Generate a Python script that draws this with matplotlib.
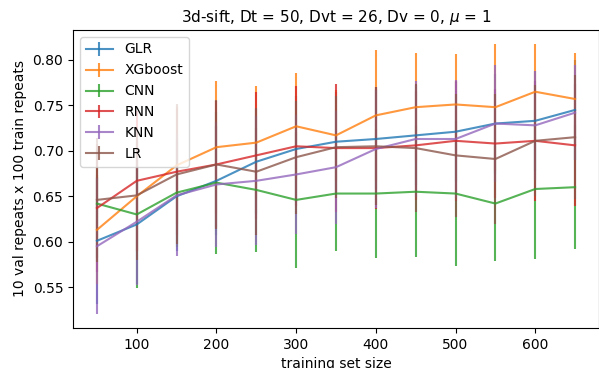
import numpy as np
import matplotlib
matplotlib.use("Agg")
import matplotlib.pyplot as plt

# training set sizes
sizes = [50, 100, 150, 200, 250, 300, 350, 400, 450, 500, 550, 600, 650]

# mean scores per model
glr = [0.601, 0.619, 0.650, 0.667, 0.688, 0.702, 0.710, 0.713, 0.717, 0.721, 0.730, 0.733, 0.745]
xgb = [0.613, 0.650, 0.684, 0.704, 0.709, 0.727, 0.717, 0.739, 0.748, 0.751, 0.748, 0.765, 0.757]
cnn = [0.642, 0.630, 0.654, 0.665, 0.657, 0.646, 0.653, 0.653, 0.655, 0.653, 0.642, 0.658, 0.660]
rnn = [0.637, 0.667, 0.677, 0.685, 0.695, 0.705, 0.703, 0.703, 0.706, 0.711, 0.708, 0.711, 0.706]
knn = [0.595, 0.622, 0.651, 0.663, 0.667, 0.674, 0.682, 0.702, 0.713, 0.713, 0.730, 0.728, 0.742]
lr = [0.646, 0.651, 0.674, 0.685, 0.677, 0.693, 0.704, 0.705, 0.703, 0.695, 0.691, 0.711, 0.715]

# standard deviations (error bars)
glr_err = [0.070, 0.065, 0.060, 0.060, 0.058, 0.058, 0.055, 0.055, 0.055, 0.055, 0.055, 0.055, 0.055]
xgb_err = [0.060, 0.060, 0.065, 0.073, 0.062, 0.059, 0.050, 0.072, 0.060, 0.056, 0.070, 0.052, 0.051]
cnn_err = [0.060, 0.081, 0.060, 0.078, 0.068, 0.075, 0.063, 0.071, 0.072, 0.080, 0.063, 0.077, 0.068]
rnn_err = [0.070, 0.077, 0.070, 0.070, 0.070, 0.066, 0.070, 0.067, 0.060, 0.066, 0.060, 0.066, 0.067]
knn_err = [0.075, 0.070, 0.067, 0.069, 0.071, 0.065, 0.062, 0.065, 0.064, 0.065, 0.064, 0.060, 0.052]
lr_err = [0.068, 0.071, 0.077, 0.071, 0.070, 0.062, 0.056, 0.065, 0.070, 0.068, 0.071, 0.061, 0.068]

names = ['GLR', 'XGboost', 'CNN', 'RNN', 'KNN', 'LR']
means = [glr, xgb, cnn, rnn, knn, lr]
errs = [glr_err, xgb_err, cnn_err, rnn_err, knn_err, lr_err]

fig = plt.figure(figsize=(5.99, 3.68), dpi=100)
ax = fig.add_axes([73 / 599, 1 - 328 / 368, 526 / 599, 298 / 368])

for name, m, e in zip(names, means, errs):
    ax.errorbar(sizes, m, yerr=e, label=name, alpha=0.8, linewidth=1.5)

ax.set_title(r'3d-sift, Dt = 50, Dvt = 26, Dv = 0, $\mu$ = 1', fontsize=11)
ax.set_xlabel('training set size')
ax.set_ylabel('10 val repeats x 100 train repeats')
ax.set_xticks([100, 200, 300, 400, 500, 600])
ax.legend(loc='upper left')

fig.savefig('out.png', dpi=100)
